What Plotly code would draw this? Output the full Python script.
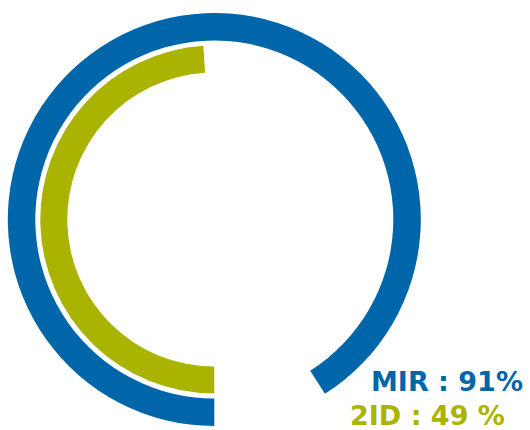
import plotly.graph_objects as go

labels = ["MIR", "2ID"]
values = [91, 49]
colors = ["#0066AA", "#AAB400"]

W, H = 530, 430
cx, cy = 214.3, 430 - 219.5
rings = [(206.5, 179.0), (174.0, 147.0)]

fig = go.Figure()
for lab, val, col, (ro, ri) in zip(labels, values, colors, rings):
    fig.add_trace(go.Pie(
        values=[val, 100 - val],
        labels=[lab, ""],
        marker=dict(colors=[col, "rgba(0,0,0,0)"], line=dict(width=0)),
        hole=ri / ro,
        sort=False,
        direction="clockwise",
        rotation=180,
        textinfo="none",
        hoverinfo="skip",
        showlegend=False,
        domain=dict(x=[(cx - ro) / W, (cx + ro) / W], y=[(cy - ro) / H, (cy + ro) / H]),
    ))

texts = [f"{labels[0]} : {values[0]}%", f"{labels[1]} : {values[1]} %"]
xr = [524, 506]
ymid = [381, 415]
for t, col, x, y in zip(texts, colors, xr, ymid):
    fig.add_annotation(x=x / W, y=(H - y) / H,
                       xref="paper", yref="paper", xanchor="right", yanchor="middle",
                       text=f"<b>{t}</b>", showarrow=False, borderpad=0,
                       font=dict(family="DejaVu Sans", size=27, color=col))

fig.update_layout(width=W, height=H, margin=dict(l=0, r=0, t=0, b=0),
                  paper_bgcolor="white", plot_bgcolor="white")
fig.write_html("out.html", config={"displayModeBar": False},
               post_script="document.body.style.margin='0';document.body.style.overflow='hidden';")
